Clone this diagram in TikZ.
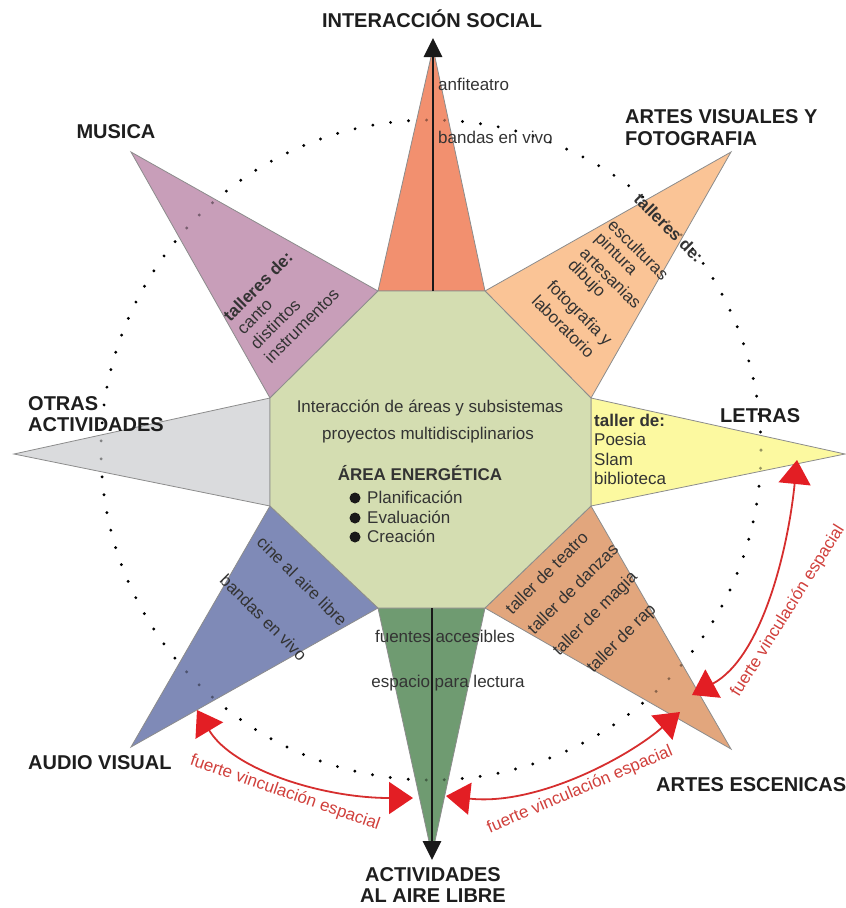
\documentclass[tikz,border=0pt]{standalone}
\usepackage{fontspec}
\setmainfont{Liberation Sans}
\usetikzlibrary{arrows.meta}
\definecolor{cT}{HTML}{F2906F}
\definecolor{cTR}{HTML}{FAC496}
\definecolor{cR}{HTML}{FCF9A0}
\definecolor{cBR}{HTML}{E2A67D}
\definecolor{cB}{HTML}{6F9B71}
\definecolor{cBL}{HTML}{7F8AB7}
\definecolor{cL}{HTML}{DADBDD}
\definecolor{cTL}{HTML}{C89EB9}
\definecolor{cOct}{HTML}{D4DDB1}
\definecolor{redhead}{HTML}{E31E24}
\definecolor{redline}{HTML}{D62E2E}
\definecolor{redtxt}{HTML}{D0403C}
\definecolor{bodytxt}{HTML}{333333}
\definecolor{ttltxt}{HTML}{1E1E1E}
\definecolor{edge}{HTML}{8C8C8C}
\begin{document}
\begin{tikzpicture}[x=1pt,y=-1pt,
  spike/.style={draw=edge, line width=0.8pt},
  ttl/.style={font=\fontsize{20}{22}\selectfont\bfseries, text=ttltxt, inner sep=0pt},
  body/.style={font=\fontsize{17}{19.5}\selectfont, text=bodytxt, inner sep=0pt},
  bodyb/.style={font=\fontsize{17}{19.5}\selectfont\bfseries, text=bodytxt, inner sep=0pt},
  redlbl/.style={font=\fontsize{17}{19}\selectfont, text=redtxt, inner sep=0pt},
  redarr/.style={draw=redline, line width=1.8pt,
    {Triangle[length=24pt,width=32pt,color=redhead]}-{Triangle[length=24pt,width=32pt,color=redhead]}},
  blkarr/.style={draw=black!90, line width=2.8pt, -{Triangle[length=19pt,width=18pt]}},
  dotring/.style={line width=3.2pt, line cap=round, dash pattern=on 0pt off 18.03pt}
]
\useasboundingbox (0,0) rectangle (846,908);
% octagon vertices
\coordinate (o1) at (378,291);
\coordinate (o2) at (485,291);
\coordinate (o3) at (591,398);
\coordinate (o4) at (591,506);
\coordinate (o5) at (485,608);
\coordinate (o6) at (378,608);
\coordinate (o7) at (270,506);
\coordinate (o8) at (270,398);
% apexes
\coordinate (aT) at (433,48);
\coordinate (aTR) at (731,152);
\coordinate (aR) at (845,454);
\coordinate (aBR) at (731,749);
\coordinate (aB) at (432,855);
\coordinate (aBL) at (131,747);
\coordinate (aL) at (14,454);
\coordinate (aTL) at (131,152);
\coordinate (cc) at (431,450);

% dotted ring (full)
\draw[dotring, black] (cc) circle[radius=330pt];

% spikes
\filldraw[spike, fill=cT] (o1) -- (o2) -- (aT) -- cycle;
\filldraw[spike, fill=cTR] (o2) -- (o3) -- (aTR) -- cycle;
\filldraw[spike, fill=cR] (o3) -- (o4) -- (aR) -- cycle;
\filldraw[spike, fill=cBR] (o4) -- (o5) -- (aBR) -- cycle;
\filldraw[spike, fill=cB] (o5) -- (o6) -- (aB) -- cycle;
\filldraw[spike, fill=cBL] (o6) -- (o7) -- (aBL) -- cycle;
\filldraw[spike, fill=cL] (o7) -- (o8) -- (aL) -- cycle;
\filldraw[spike, fill=cTL] (o8) -- (o1) -- (aTL) -- cycle;

% faint dots inside the spikes
\begin{scope}
\clip (o1) -- (o2) -- (aT) -- cycle (o2) -- (o3) -- (aTR) -- cycle
      (o3) -- (o4) -- (aR) -- cycle (o4) -- (o5) -- (aBR) -- cycle
      (o5) -- (o6) -- (aB) -- cycle (o6) -- (o7) -- (aBL) -- cycle
      (o7) -- (o8) -- (aL) -- cycle (o8) -- (o1) -- (aTL) -- cycle;
\draw[dotring, black, draw opacity=0.4] (cc) circle[radius=330pt];
\end{scope}

% octagon
\filldraw[spike, fill=cOct] (o1) -- (o2) -- (o3) -- (o4) -- (o5) -- (o6) -- (o7) -- (o8) -- cycle;

% vertical black arrows
\coordinate (vT0) at (433,291);
\coordinate (vT1) at (433,38);
\coordinate (vB0) at (432,608);
\coordinate (vB1) at (432,860);
\draw[blkarr] (vT0) -- (vT1);
\draw[blkarr] (vB0) -- (vB1);

% titles
\node[ttl, anchor=base] (tIS) at (432,27) {INTERACCIÓN SOCIAL};
\node[ttl, anchor=base] (tMU) at (116,138) {MUSICA};
\node[ttl, anchor=base west] (tAV1) at (625,123) {ARTES VISUALES Y};
\node[ttl, anchor=base west] (tAV2) at (625,145) {FOTOGRAFIA};
\node[ttl, anchor=base west] (tOA1) at (28,410) {OTRAS};
\node[ttl, anchor=base west] (tOA2) at (28,431) {ACTIVIDADES};
\node[ttl, anchor=base west] (tLE) at (720,422) {LETRAS};
\node[ttl, anchor=base west] (tAU) at (28,769) {AUDIO VISUAL};
\node[ttl, anchor=base west] (tAE) at (656,791) {ARTES ESCENICAS};
\node[ttl, anchor=base] (tAL1) at (433,881) {ACTIVIDADES};
\node[ttl, anchor=base] (tAL2) at (433,902) {AL AIRE LIBRE};

% top spike
\node[body, anchor=base west] (s1) at (438,90) {anfiteatro};
\node[body, anchor=base west] (s2) at (438,143) {bandas en vivo};

% top-right spike
\node[bodyb, rotate=-45, anchor=west] (v0) at (637,196) {talleres de:};
\node[body, rotate=-45, anchor=west] (v1) at (611,222) {esculturas};
\node[body, rotate=-45, anchor=west] (v2) at (597,236) {pintura};
\node[body, rotate=-45, anchor=west] (v3) at (583,250) {artesanias};
\node[body, rotate=-45, anchor=west] (v4) at (570,263) {dibujo};
\node[body, rotate=-45, anchor=west] (v5) at (549,284) {fotografia y};
\node[body, rotate=-45, anchor=west] (v6) at (535,298) {laboratorio};

% right spike
\node[bodyb, anchor=base west] (l0) at (594,426) {taller de:};
\node[body, anchor=base west] (l1) at (594,445.5) {Poesia};
\node[body, anchor=base west] (l2) at (594,465) {Slam};
\node[body, anchor=base west] (l3) at (594,484) {biblioteca};

% bottom-right spike
\node[body, rotate=45, anchor=west] (e1) at (508,611) {taller de teatro};
\node[body, rotate=45, anchor=west] (e2) at (530,631) {taller de danzas};
\node[body, rotate=45, anchor=west] (e3) at (556,654) {taller de magia};
\node[body, rotate=45, anchor=west] (e4) at (590,671) {taller de rap};

% bottom spike
\node[body, anchor=base] (b1) at (445,642) {fuentes accesibles};
\node[body, anchor=base] (b2) at (448,687) {espacio para lectura};

% bottom-left spike
\node[body, rotate=-45, anchor=west] (c1) at (260,539) {cine al aire libre};
\node[body, rotate=-45, anchor=west] (c2) at (223,577) {bandas en vivo};

% top-left spike
\node[bodyb, rotate=45, anchor=west] (m0) at (226,318) {talleres de:};
\node[body, rotate=45, anchor=west] (m1) at (240,332) {canto};
\node[body, rotate=45, anchor=west] (m2) at (253,346) {distintos};
\node[body, rotate=45, anchor=west] (m3) at (267,360) {instrumentos};

% center
\node[body, anchor=base] (k1) at (430,412) {Interacción de áreas y subsistemas};
\node[body, anchor=base] (k2) at (428,439) {proyectos multidisciplinarios};
\node[bodyb, anchor=base] (k3) at (420,480) {ÁREA ENERGÉTICA};
\node[body, anchor=base west] (k4) at (367,503) {Planificación};
\node[body, anchor=base west] (k5) at (367,523) {Evaluación};
\node[body, anchor=base west] (k6) at (367,542) {Creación};
\fill[black!90] (355,498) circle[radius=5.5pt];
\fill[black!90] (355,518) circle[radius=5.5pt];
\fill[black!90] (355,537) circle[radius=5.5pt];

% red arrows
\coordinate (r1a) at (197,710);
\coordinate (r1b) at (413,798);
\coordinate (r2a) at (446,796);
\coordinate (r2b) at (680,712);
\coordinate (r3a) at (692,695);
\coordinate (r3b) at (797,460);
\draw[redarr] (r1a) .. controls (233,770) and (323,798) .. (r1b);
\draw[redarr] (r2a) .. controls (536,806) and (627,758) .. (r2b);
\draw[redarr] (r3a) .. controls (762,657) and (788,550) .. (r3b);
\node[redlbl, rotate=-19] (q1) at (285,793) {fuerte vinculación espacial};
\node[redlbl, rotate=23] (q2) at (580,790) {fuerte vinculación espacial};
\node[redlbl, rotate=58] (q3) at (788,611) {fuerte vinculación espacial};
\end{tikzpicture}
\end{document}
